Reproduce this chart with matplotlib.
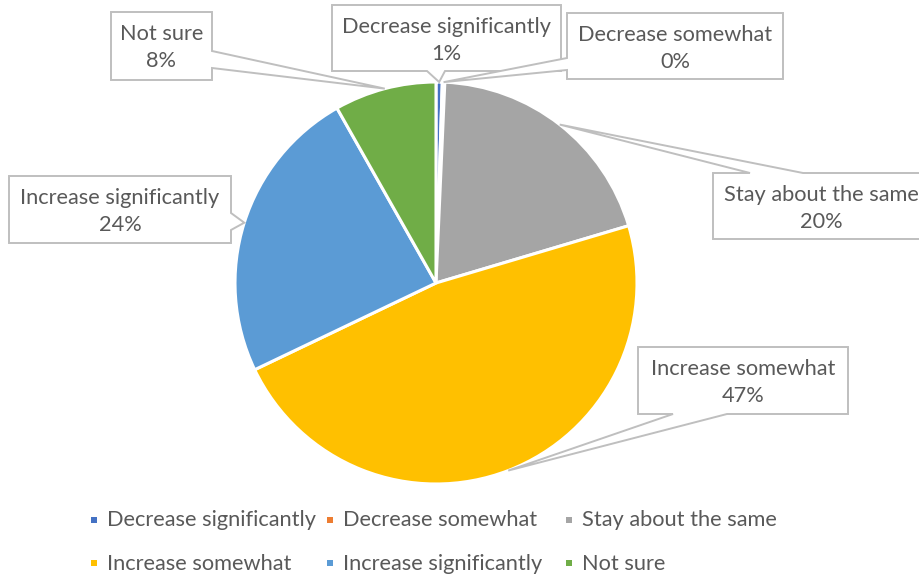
import numpy as np
import matplotlib
matplotlib.use("Agg")
import matplotlib.pyplot as plt
from matplotlib.patches import Polygon, Rectangle

# ---- data ----
categories = ["Decrease significantly", "Decrease somewhat", "Stay about the same",
              "Increase somewhat", "Increase significantly", "Not sure"]
values = [0.5, 0.2, 19.7, 47.5, 23.9, 8.2]
pct_labels = ["1%", "0%", "20%", "47%", "24%", "8%"]
colors = ["#4472C4", "#ED7D31", "#A5A5A5", "#FFC000", "#5B9BD5", "#70AD47"]

# ---- layout (pixel coordinates, y downward) ----
W, H = 920, 578
CX, CY, R = 436, 283, 201
TEXT_COLOR = "#595959"
BOX_EDGE = "#BFBFBF"
FONT = ["Lato", "DejaVu Sans"]
FS = 15.7

# callout boxes: (x0, y0, x1, y1), side of pointer, pointer base positions
callouts = [
    ((332, 5, 561, 71), "bottom", (427, 445)),
    ((567, 13, 783, 79), "left", (58, 70)),
    ((713, 173, 930, 239), "top", (750, 803)),
    ((638, 347, 848, 414), "bottom", (673, 727)),
    ((9, 176, 231, 243), "right", (213, 230)),
    ((111, 12, 212, 80), "right", (51, 68)),
]

fig = plt.figure(figsize=(W / 100, H / 100), dpi=100)
ax = fig.add_axes([0, 0, 1, 1])

wedges, _ = ax.pie(values, colors=colors, center=(CX, CY), radius=R,
                   startangle=-90, counterclock=True,
                   wedgeprops=dict(edgecolor="white", linewidth=2.2))
ax.set_xlim(0, W)
ax.set_ylim(H, 0)
ax.set_aspect("equal")
ax.axis("off")


def callout_poly(box, side, base, tip):
    x0, y0, x1, y1 = box
    a, b = base
    if side == "bottom":
        pts = [(x0, y0), (x1, y0), (x1, y1), (b, y1), tip, (a, y1), (x0, y1)]
    elif side == "top":
        pts = [(x0, y0), (a, y0), tip, (b, y0), (x1, y0), (x1, y1), (x0, y1)]
    elif side == "left":
        pts = [(x0, y0), (x1, y0), (x1, y1), (x0, y1), (x0, b), tip, (x0, a)]
    else:  # right
        pts = [(x0, y0), (x1, y0), (x1, a), tip, (x1, b), (x1, y1), (x0, y1)]
    return pts


for w, cat, pct, (box, side, base) in zip(wedges, categories, pct_labels, callouts):
    mid = np.deg2rad((w.theta1 + w.theta2) / 2)
    tip = (CX + R * np.cos(mid), CY + R * np.sin(mid))
    poly = Polygon(callout_poly(box, side, base, tip), closed=True,
                   facecolor="white", edgecolor=BOX_EDGE, linewidth=1.4, zorder=5)
    ax.add_patch(poly)
    xc = (box[0] + box[2]) / 2
    ax.text(xc, box[1] + 28, cat, ha="center", va="baseline", fontsize=FS,
            color=TEXT_COLOR, family=FONT, zorder=6)
    ax.text(xc, box[1] + 55, pct, ha="center", va="baseline", fontsize=FS,
            color=TEXT_COLOR, family=FONT, zorder=6)

# ---- legend (row-wise, Excel style) ----
leg_cols = [94, 330, 569]
leg_rows = [520, 563]
for i, (cat, col) in enumerate(zip(categories, colors)):
    r, c = divmod(i, 3)
    mx, my = leg_cols[c], leg_rows[r]
    ax.add_patch(Rectangle((mx - 3, my - 3), 6, 6, facecolor=col, edgecolor="none"))
    ax.text(mx + 13, my + 6.5, cat, ha="left", va="baseline", fontsize=FS,
            color=TEXT_COLOR, family=FONT)

fig.savefig("out.png", dpi=100, facecolor="white")
